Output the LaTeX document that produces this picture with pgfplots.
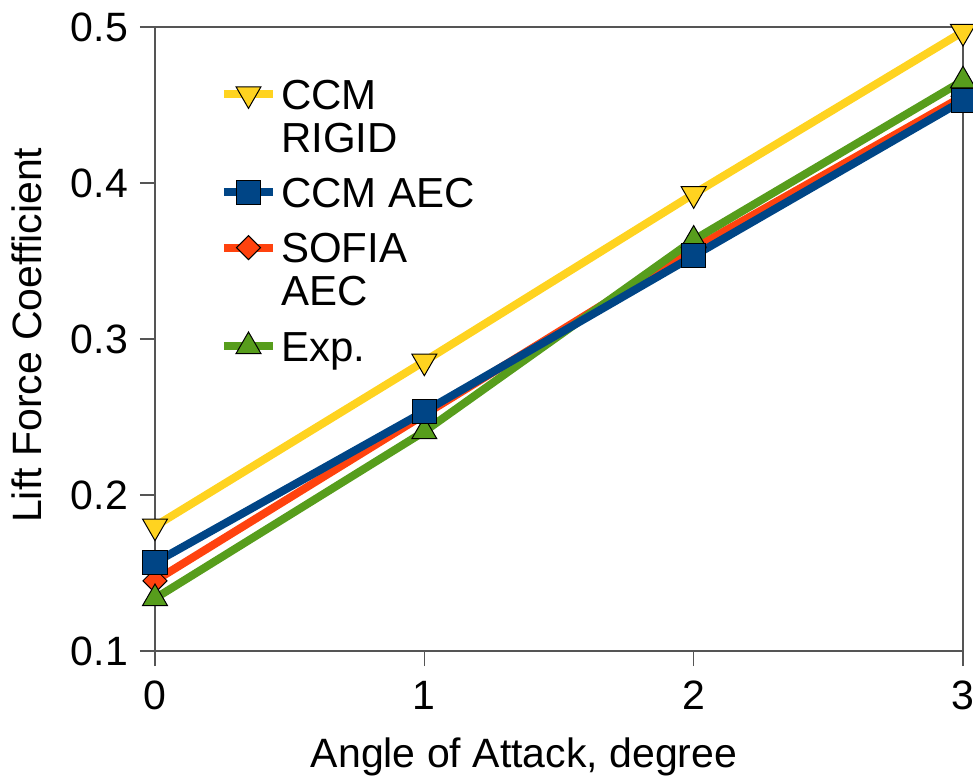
\documentclass[border=0pt]{standalone}
\usepackage{pgfplots}
\pgfplotsset{compat=1.18}
\usepackage{fontspec}
\setmainfont{Liberation Sans}
\definecolor{cyel}{HTML}{FFD320}
\definecolor{cblu}{HTML}{004586}
\definecolor{cred}{HTML}{FF420E}
\definecolor{cgrn}{HTML}{579D1C}
\definecolor{axgray}{HTML}{555555}
\begin{document}
\begin{tikzpicture}
\begin{axis}[
  scale only axis, width=404pt, height=312pt,
  xmin=0, xmax=3, ymin=0.1, ymax=0.5,
  xtick={0,1,2,3}, ytick={0.1,0.2,0.3,0.4,0.5},
  tick pos=left,
  /pgf/number format/assume math mode=true,
  yticklabel style={/pgf/number format/fixed, /pgf/number format/precision=1, /pgf/number format/fixed zerofill, xshift=-2.5pt},
  xticklabel style={yshift=-4pt},
  tick align=outside, major tick length=7.5pt,
  axis line style={axgray, line width=0.75pt},
  every tick/.style={axgray, line width=0.75pt},
  tick label style={font=\fontsize{20.5}{23}\selectfont, black},
  clip=false,
  xlabel={Angle of Attack, degree},
  ylabel={Lift Force Coefficient},
  label style={font=\fontsize{20.5}{24}\selectfont},
  xlabel style={at={([yshift=-58pt]rel axis cs:0.4567,0)}, anchor=base},
  ylabel style={at={([xshift=-56.5pt]rel axis cs:0,0.506)}, anchor=base, rotate=0},
  legend image code/.code={
    \draw[mark repeat=2, mark phase=2, #1] plot coordinates {(0pt,-7pt) (12.25pt,-7pt) (24.5pt,-7pt)};
  },
  legend style={at={([xshift=32.5pt, yshift=-26.5pt]rel axis cs:0,1)}, anchor=north west,
    draw=none, fill=none, inner sep=0pt, outer sep=0pt,
    row sep=11.5pt, column sep=2pt,
    font=\fontsize{21}{21.5}\selectfont,
    nodes={inner sep=0pt, outer sep=0pt, align=left},
    cells={anchor=north west}},
  mark options={solid, draw=black, line width=0.5pt},
]
% legend images in reference order
\addlegendimage{cyel, line width=4pt, mark=triangle*, mark size=7.2pt, mark options={fill=cyel, rotate=180, draw=black, line width=0.5pt}}
\addlegendentry{CCM\\RIGID}
\addlegendimage{cblu, line width=4pt, mark=square*, mark size=6pt, mark options={fill=cblu, draw=black, line width=0.5pt}}
\addlegendentry{CCM AEC}
\addlegendimage{cred, line width=4pt, mark=square*, mark size=4.25pt, mark options={fill=cred, rotate=45, draw=black, line width=0.5pt}}
\addlegendentry{SOFIA\\AEC}
\addlegendimage{cgrn, line width=4pt, mark=triangle*, mark size=7.2pt, mark options={fill=cgrn, draw=black, line width=0.5pt}}
\addlegendentry{Exp.}
% data
\addplot[forget plot, cred, line width=4pt, mark=square*, mark size=4.25pt, mark options={fill=cred, rotate=45, draw=black, line width=0.5pt}]
  coordinates {(0,0.145) (1,0.2515) (2,0.358) (3,0.4556)};
\addplot[forget plot, cgrn, line width=4pt, mark=triangle*, mark size=7.2pt, mark options={fill=cgrn, draw=black, line width=0.5pt}]
  coordinates {(0,0.1337) (1,0.2407) (2,0.3635) (3,0.4656)};
\addplot[forget plot, cblu, line width=4pt, mark=square*, mark size=6pt, mark options={fill=cblu, draw=black, line width=0.5pt}]
  coordinates {(0,0.1567) (1,0.2535) (2,0.3533) (3,0.4529)};
\addplot[forget plot, cyel, line width=4pt, mark=triangle*, mark size=7.2pt, mark options={fill=cyel, rotate=180, draw=black, line width=0.5pt}]
  coordinates {(0,0.180) (1,0.2857) (2,0.393) (3,0.497)};
\end{axis}
\pgfresetboundingbox
\path (-77.5pt,-65pt) rectangle (409pt,325.5pt);
\end{tikzpicture}
\end{document}
